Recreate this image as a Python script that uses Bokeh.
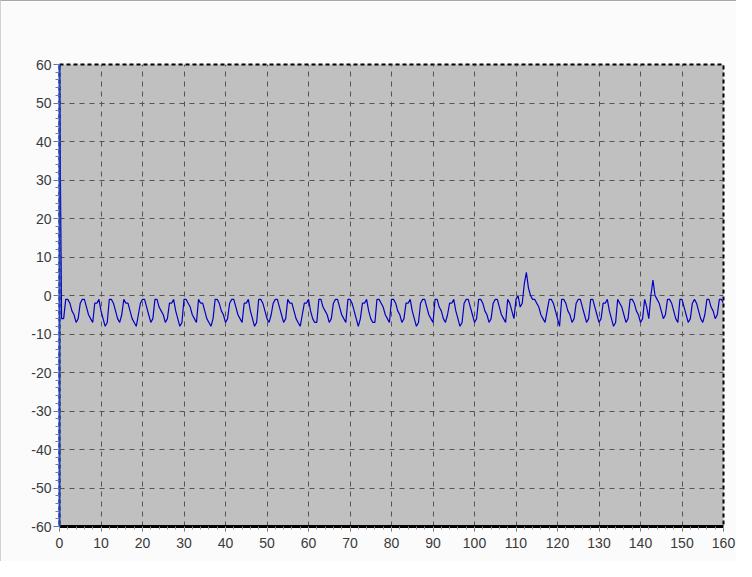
from bokeh.plotting import figure
from bokeh.models import FixedTicker, Range1d, PrintfTickFormatter
from bokeh.embed import file_html
from bokeh.resources import INLINE

# samples every 0.5 on x, from 0 to 160
x_step = 0.5

y_start = [60, -6, -6]
y_run_a = [
    -1, -1, -2, -4, -5, -7, -6,
    -2, -1, -1, -3, -5, -6, -7,
    -2, -2, -1, -4, -6, -8, -7,
    -1, -1, -2, -4, -6, -7, -5,
    -1, -2, -2, -4, -6, -7, -8, -5,
    -2, -1, -1, -3, -5, -7, -6,
    -1, -1, -3, -4, -5, -7, -6,
    -2, -2, -1, -4, -6, -8, -7,
    -1, -1, -2, -3, -5, -6, -7,
    -1, -2, -2, -4, -6, -7, -8, -6,
    -1, -1, -2, -4, -5, -7, -6,
    -2, -1, -1, -3, -5, -6, -7,
    -2, -2, -1, -4, -6, -8, -7,
    -1, -1, -2, -4, -6, -7, -5,
    -2, -1, -1, -3, -5, -7, -6,
    -1, -2, -2, -4, -6, -7, -8, -5,
    -2, -2, -1, -4, -6, -7, -7,
    -1, -1, -3, -4, -5, -7, -6,
    -2, -1, -1, -3, -5, -6, -7,
    -1, -1, -2, -4, -6, -8, -6,
    -2, -2, -1, -4, -6, -7, -7,
    -1, -1, -2, -3, -5, -6, -7,
    -1, -1, -2, -4, -5, -7, -6,
    -2, -2, -1, -4, -6, -8, -7,
    -2, -1, -1, -3, -5, -6, -7,
    -1, -1, -3, -4, -6, -7, -5,
    -2, -2, -1, -4, -6, -8, -7,
    -2, -1, -1, -3, -5, -7, -6,
    -1, -1, -2, -4, -5, -7, -6,
    -2, -1, -1, -3, -5, -6, -7,
]
y_spike_a = [-1, -2, -4, -6, -1, 0, -3, -2, 3, 6, 2, 0, -1, -1, -2, -3, -5, -6, -7, -4, -1]
y_run_b = [
    -1, -2, -4, -6, -8,
    -1, -1, -2, -4, -5, -7, -6,
    -2, -1, -1, -3, -5, -7, -6,
    -1, -1, -3, -5, -7, -6,
    -2, -2, -1, -4, -6, -8, -7,
    -1, -2, -3, -5, -7, -6,
    -1, -1, -2, -4, -5, -7, -6,
]
y_spike_b = [-1, -3, -6, 0, 4, 0, -1, -2, -4, -6, -5, -1, -1]
y_run_c = [
    -2, -4, -6, -7,
    -1, -1, -3, -5, -7, -6,
    -2, -1, -2, -4, -6, -7, -5,
    -1, -1, -3, -4, -6, -5, -1, -1, -2,
]
y_values = y_start + y_run_a + y_spike_a + y_run_b + y_spike_b + y_run_c
x_values = [i * x_step for i in range(len(y_values))]

x_ticks = list(range(0, 161, 10))
x_minor = list(range(0, 161, 2))
y_ticks = list(range(-60, 61, 10))
y_minor = list(range(-60, 61, 2))

p = figure(width=736, height=561, output_backend="svg", toolbar_location=None,
           x_range=Range1d(0, 160), y_range=Range1d(-60, 60),
           min_border_left=58, min_border_right=14, min_border_top=63, min_border_bottom=36)
p.styles = {"border-top": "1px solid #a8a8a8", "border-left": "1px solid #d0d0d0"}
p.background_fill_color = "#c0c0c0"
p.border_fill_color = "#fbfbfb"
p.outline_line_color = "black"
p.outline_line_width = 2
p.outline_line_dash = "4 3"

p.line(x_values, y_values, line_color="#0000c8", line_width=1.2)

p.xaxis.ticker = FixedTicker(ticks=x_ticks, minor_ticks=x_minor)
p.yaxis.ticker = FixedTicker(ticks=y_ticks, minor_ticks=y_minor)
p.xaxis.formatter = PrintfTickFormatter(format="%d")
p.yaxis.formatter = PrintfTickFormatter(format="%d")

for g in (p.xgrid, p.ygrid):
    g.grid_line_color = "#555555"
    g.grid_line_dash = "5 5"
    g.grid_line_width = 1

for ax in (p.xaxis, p.yaxis):
    ax.major_label_text_font = "Liberation Sans"
    ax.major_label_text_font_size = "14px"
    ax.major_label_text_color = "#3a3a3a"
    ax.major_tick_in = 0
    ax.minor_tick_in = 0

p.xaxis.axis_line_color = "black"
p.xaxis.axis_line_width = 3
p.xaxis.major_tick_line_color = "#707070"
p.xaxis.minor_tick_line_color = "#909090"
p.xaxis.major_tick_out = 5
p.xaxis.minor_tick_out = 3
p.xaxis.major_label_standoff = 6

p.yaxis.axis_line_color = "#2040c0"
p.yaxis.axis_line_width = 2
p.yaxis.major_tick_line_color = "#5070a8"
p.yaxis.minor_tick_line_color = "#6080b0"
p.yaxis.major_tick_out = 6
p.yaxis.minor_tick_out = 4
p.yaxis.major_label_standoff = 2

open("out.html", "w").write(file_html(p, INLINE))
